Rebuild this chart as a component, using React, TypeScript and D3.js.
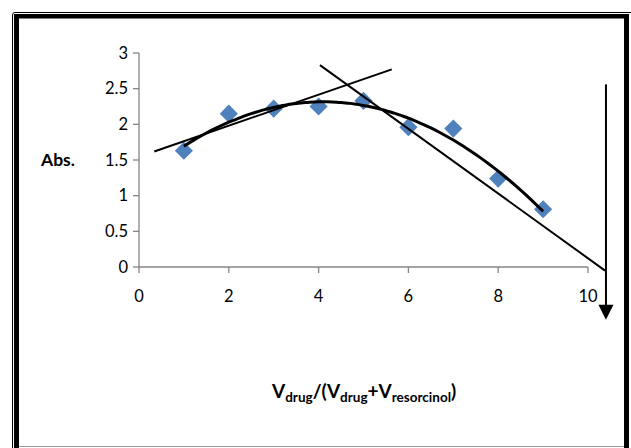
import React from "react";
import * as d3 from "d3";

const ratios = [1, 2, 3, 4, 5, 6, 7, 8, 9];
const absValues = [1.63, 2.15, 2.22, 2.25, 2.33, 1.96, 1.94, 1.24, 0.81];
const xTicks = [0, 2, 4, 6, 8, 10];
const yTicks = [0, 0.5, 1, 1.5, 2, 2.5, 3];
const tangentRising = [
  { x: 0.34, y: 1.62 },
  { x: 5.63, y: 2.77 },
];
const tangentFalling = [
  { x: 4.03, y: 2.83 },
  { x: 10.38, y: -0.05 },
];
const arrowLine = [
  { x: 10.4, y: 2.56 },
  { x: 10.4, y: -0.74 },
];

// quadratic least squares trendline (like Excel polynomial order 2)
function quadFit(xs: number[], ys: number[]) {
  const n = xs.length;
  const mx = d3.mean(xs)!;
  const us = xs.map((x) => x - mx);
  const s2 = d3.sum(us, (u) => u * u);
  const s4 = d3.sum(us, (u) => u ** 4);
  const s3 = d3.sum(us, (u) => u ** 3);
  const sy = d3.sum(ys);
  const suy = d3.sum(us.map((u, i) => u * ys[i]));
  const su2y = d3.sum(us.map((u, i) => u * u * ys[i]));
  const A = [
    [n, 0, s2],
    [0, s2, s3],
    [s2, s3, s4],
  ];
  const B = [sy, suy, su2y];
  const M = A.map((r, i) => [...r, B[i]]);
  for (let i = 0; i < 3; i++) {
    let p = i;
    for (let k = i + 1; k < 3; k++) if (Math.abs(M[k][i]) > Math.abs(M[p][i])) p = k;
    [M[i], M[p]] = [M[p], M[i]];
    for (let k = i + 1; k < 3; k++) {
      const f = M[k][i] / M[i][i];
      for (let j = i; j < 4; j++) M[k][j] -= f * M[i][j];
    }
  }
  const c = [0, 0, 0];
  for (let i = 2; i >= 0; i--) {
    let s = M[i][3];
    for (let j = i + 1; j < 3; j++) s -= M[i][j] * c[j];
    c[i] = s / M[i][i];
  }
  return (x: number) => {
    const u = x - mx;
    return c[0] + c[1] * u + c[2] * u * u;
  };
}

export default function App() {
  const W = 631;
  const H = 448;
  const x = d3.scaleLinear().domain([0, 10]).range([139, 588]);
  const y = d3.scaleLinear().domain([0, 3]).range([267, 53]);
  const fit = quadFit(ratios, absValues);
  const curvePts = d3.range(0, 81).map((i) => {
    const xv = 1 + (i * 8) / 80;
    return [xv, fit(xv)] as [number, number];
  });
  const line = d3
    .line<[number, number]>()
    .x((d) => x(d[0]))
    .y((d) => y(d[1]))
    .curve(d3.curveMonotoneX);
  const seg = (p: { x: number; y: number }[]) =>
    d3.line<{ x: number; y: number }>().x((d) => x(d.x)).y((d) => y(d.y))(p)!;
  const diamond = d3.symbol().type(d3.symbolSquare).size(165)()!;
  const axisColor = "#868686";
  const font = "Lato, 'Open Sans', sans-serif";
  const ax = x(arrowLine[0].x);
  const aTop = y(arrowLine[0].y);
  const aTip = y(arrowLine[1].y);

  return (
    <svg
      width={W}
      height={H}
      style={{ position: "absolute", left: 0, top: 0, background: "#fff" }}
    >
      {/* frame */}
      <path d={`M12.5,${H} L12.5,15 Q12.5,12.5 15,12.5 L${W},12.5`} fill="none" stroke="#000" strokeWidth={1} />
      <rect x={14} y={14} width={615} height={4.5} fill="#000" />
      <rect x={14} y={14} width={5} height={H - 14} fill="#000" />
      <rect x={624} y={14} width={5} height={H - 14} fill="#000" />
      <line x1={19} x2={624} y1={446.5} y2={446.5} stroke="#999" strokeWidth={1} />

      {/* axes */}
      <line x1={x(0)} x2={x(0)} y1={y(3)} y2={y(0)} stroke={axisColor} strokeWidth={1.3} />
      <line x1={x(0)} x2={x(10)} y1={y(0)} y2={y(0)} stroke={axisColor} strokeWidth={1.3} />
      {yTicks.map((t) => (
        <g key={"y" + t}>
          <line x1={x(0) - 6} x2={x(0)} y1={y(t)} y2={y(t)} stroke={axisColor} strokeWidth={1.3} />
          <text
            x={x(0) - 11}
            y={y(t)}
            dy="0.35em"
            textAnchor="end"
            fontFamily={font}
            fontSize={16.5}
            fill="#000"
          >
            {String(t)}
          </text>
        </g>
      ))}
      {xTicks.map((t) => (
        <g key={"x" + t}>
          <line x1={x(t)} x2={x(t)} y1={y(0)} y2={y(0) + 6} stroke={axisColor} strokeWidth={1.3} />
          <text
            x={x(t)}
            y={y(0) + 29}
            dy="0.35em"
            textAnchor="middle"
            fontFamily={font}
            fontSize={16.5}
            fill="#000"
          >
            {String(t)}
          </text>
        </g>
      ))}

      {/* data points */}
      {ratios.map((r, i) => (
        <path
          key={"p" + i}
          d={diamond}
          transform={`translate(${x(r)},${y(absValues[i])}) rotate(45)`}
          fill="#4F81BD"
        />
      ))}

      {/* trendline */}
      <path d={line(curvePts)!} fill="none" stroke="#000" strokeWidth={3} />
      {/* tangents */}
      <path d={seg(tangentRising)} fill="none" stroke="#000" strokeWidth={2} />
      <path d={seg(tangentFalling)} fill="none" stroke="#000" strokeWidth={2} />
      {/* arrow */}
      <line x1={ax} x2={ax} y1={aTop} y2={aTip - 12} stroke="#000" strokeWidth={2} />
      <path d={`M${ax - 7.5},${aTip - 15} L${ax + 7.5},${aTip - 15} L${ax},${aTip} Z`} fill="#000" />

      {/* axis titles */}
      <text x={41} y={166} fontFamily={font} fontSize={17.5} fontWeight="bold" fill="#000">
        Abs.
      </text>
      <text x={272} y={398} fontFamily={font} fontSize={19} fontWeight="bold" fill="#000">
        <tspan>V</tspan>
        <tspan fontSize={13.5} dy={4}>drug</tspan>
        <tspan dy={-4}>/(V</tspan>
        <tspan fontSize={13.5} dy={4}>drug</tspan>
        <tspan dy={-4}>+V</tspan>
        <tspan fontSize={13.5} dy={4}>resorcinol</tspan>
        <tspan dy={-4}>)</tspan>
      </text>
    </svg>
  );
}
